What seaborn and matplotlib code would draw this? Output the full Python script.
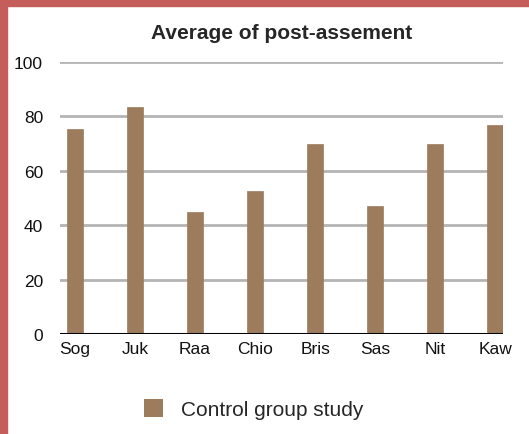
import matplotlib
matplotlib.use("Agg")
from matplotlib import pyplot as plt
from matplotlib.patches import Rectangle, Patch
import seaborn as sns
import pandas as pd

schools = ["Sog", "Juk", "Raa", "Chio", "Bris", "Sas", "Nit", "Kaw"]
scores = [75.5, 83.5, 45, 52.5, 70, 47, 70, 77]
series_name = "Control group study"
title = "Average of post-assement"
yticks = [0, 20, 40, 60, 80, 100]

bar_color = "#9c7c5c"
border_color = "#c55e5b"

df = pd.DataFrame({"school": schools, "score": scores})

sns.set_theme(style="white")
plt.rcParams["font.family"] = ["Liberation Sans", "DejaVu Sans"]

fig = plt.figure(figsize=(5.29, 4.35), dpi=100)
ax = fig.add_axes([0.113, 0.230, 0.838, 0.625])

sns.barplot(data=df, x="school", y="score", color=bar_color, width=0.27,
            saturation=1, ax=ax)
for p in ax.patches:
    p.set_zorder(3)
    p.set_edgecolor(bar_color)
    p.set_linewidth(0.5)

ax.set_ylim(0, 100)
ax.set_xlim(-0.25, 7.13)
ax.set_yticks(yticks)
ax.yaxis.grid(True, color="#b4b4b4", linewidth=2)
ax.set_axisbelow(True)
for gl in ax.get_ygridlines():
    gl.set_zorder(0)
ax.axhline(0, color="black", linewidth=2.2, zorder=4)
for s in ax.spines.values():
    s.set_visible(False)
ax.tick_params(axis="both", length=0, labelsize=12.5, colors="#111111")
ax.tick_params(axis="y", pad=12)
ax.tick_params(axis="x", pad=5)
ax.set_xlabel("")
ax.set_ylabel("")
ax.set_title(title, fontsize=15, fontweight="bold", pad=17)

handle = Patch(facecolor=bar_color, edgecolor="none")
fig.legend([handle], [series_name], loc="center", bbox_to_anchor=(0.48, 0.057),
           frameon=False, fontsize=15, handlelength=0.9, handleheight=0.9,
           handletextpad=0.9)

# red frame on left and top
fig.patches.append(Rectangle((0, 0), 7 / 529, 1, transform=fig.transFigure,
                             color=border_color, zorder=10))
fig.patches.append(Rectangle((0, 1 - 7 / 435), 1, 7 / 435, transform=fig.transFigure,
                             color=border_color, zorder=10))

fig.savefig("out.png", dpi=100)
